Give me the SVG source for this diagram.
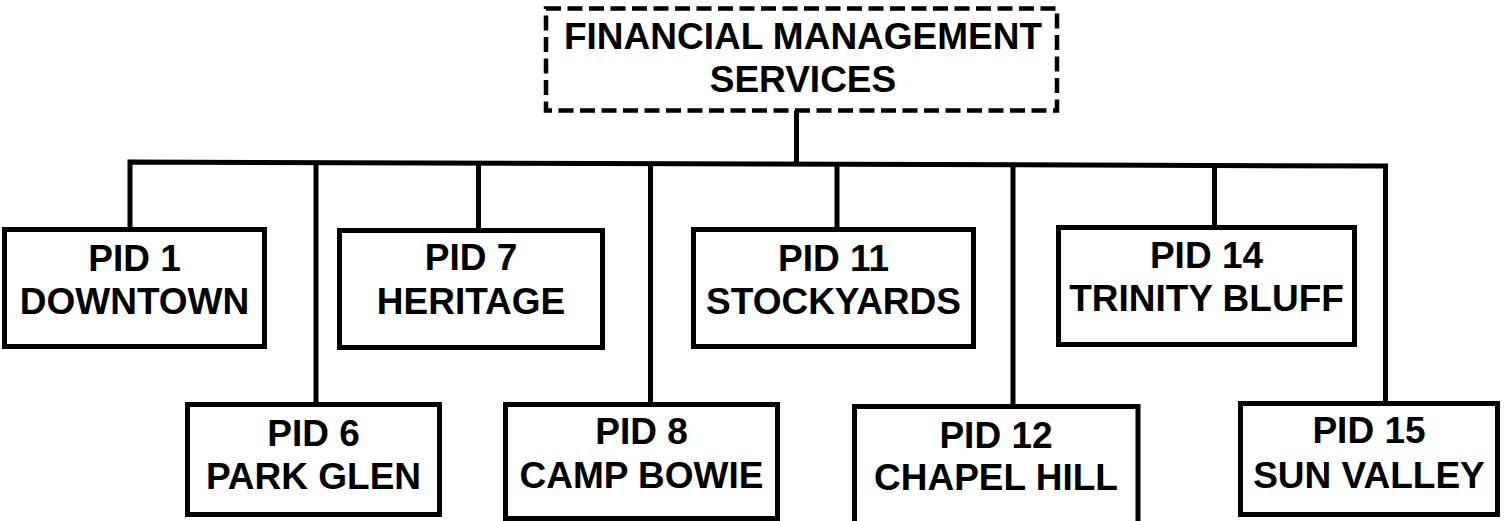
<svg xmlns="http://www.w3.org/2000/svg" width="1505" height="521" viewBox="0 0 1505 521">
  <style>
    .box { fill: #ffffff; stroke: #000000; stroke-width: 5; }
    .dash { fill: #ffffff; stroke: #000000; stroke-width: 4.5; stroke-dasharray: 15 6.5; }
    .wire { fill: none; stroke: #000000; stroke-width: 5; stroke-linejoin: miter; }
    .lbl { font-family: "Liberation Sans", Arial, sans-serif; font-weight: bold; font-size: 37px; fill: #000000; text-anchor: middle; }
  </style>
  <rect width="1505" height="521" fill="#ffffff"/>

  <!-- connectors: main bus plus drops to each district -->
  <g id="connectors">
    <path class="wire" d="M130,229.5 V162 L1385.5,166 V403.5"/>
    <path class="wire" d="M796.5,110 V164.8"/>
    <path class="wire" d="M316,162.5 V404.5"/>
    <path class="wire" d="M478.5,163 V230.5"/>
    <path class="wire" d="M650.5,163.5 V404.5"/>
    <path class="wire" d="M837,164.2 V229.5"/>
    <path class="wire" d="M1013,164.8 V406.5"/>
    <path class="wire" d="M1214.5,165.4 V227.5"/>
  </g>

  <g id="fms">
    <rect class="dash" x="546" y="8.5" width="511" height="102"/>
    <text class="lbl" x="803" y="49">FINANCIAL MANAGEMENT</text>
    <text class="lbl" x="803" y="92">SERVICES</text>
  </g>

  <g id="pid1">
    <rect class="box" x="4.5" y="229.5" width="260" height="117"/>
    <text class="lbl" x="134.5" y="271">PID 1</text>
    <text class="lbl" x="134.5" y="314">DOWNTOWN</text>
  </g>

  <g id="pid6">
    <rect class="box" x="187.5" y="404.5" width="252" height="110"/>
    <text class="lbl" x="313.5" y="446">PID 6</text>
    <text class="lbl" x="313.5" y="489">PARK GLEN</text>
  </g>

  <g id="pid7">
    <rect class="box" x="339.5" y="230.5" width="263" height="117"/>
    <text class="lbl" x="471" y="270">PID 7</text>
    <text class="lbl" x="471" y="314">HERITAGE</text>
  </g>

  <g id="pid8">
    <rect class="box" x="505.5" y="404.5" width="272" height="114"/>
    <text class="lbl" x="641.5" y="444">PID 8</text>
    <text class="lbl" x="641.5" y="488">CAMP BOWIE</text>
  </g>

  <g id="pid11">
    <rect class="box" x="693.5" y="229.5" width="280" height="117"/>
    <text class="lbl" x="833.5" y="271">PID 11</text>
    <text class="lbl" x="833.5" y="314">STOCKYARDS</text>
  </g>

  <g id="pid12">
    <rect class="box" x="854.5" y="406.5" width="283.5" height="140"/>
    <text class="lbl" x="996" y="448">PID 12</text>
    <text class="lbl" x="996" y="490">CHAPEL HILL</text>
  </g>

  <g id="pid14">
    <rect class="box" x="1058.5" y="227.5" width="296" height="117"/>
    <text class="lbl" x="1206.5" y="268">PID 14</text>
    <text class="lbl" x="1206.5" y="311">TRINITY BLUFF</text>
  </g>

  <g id="pid15">
    <rect class="box" x="1240.5" y="403.5" width="257" height="111"/>
    <text class="lbl" x="1369" y="443">PID 15</text>
    <text class="lbl" x="1369" y="488">SUN VALLEY</text>
  </g>
</svg>
